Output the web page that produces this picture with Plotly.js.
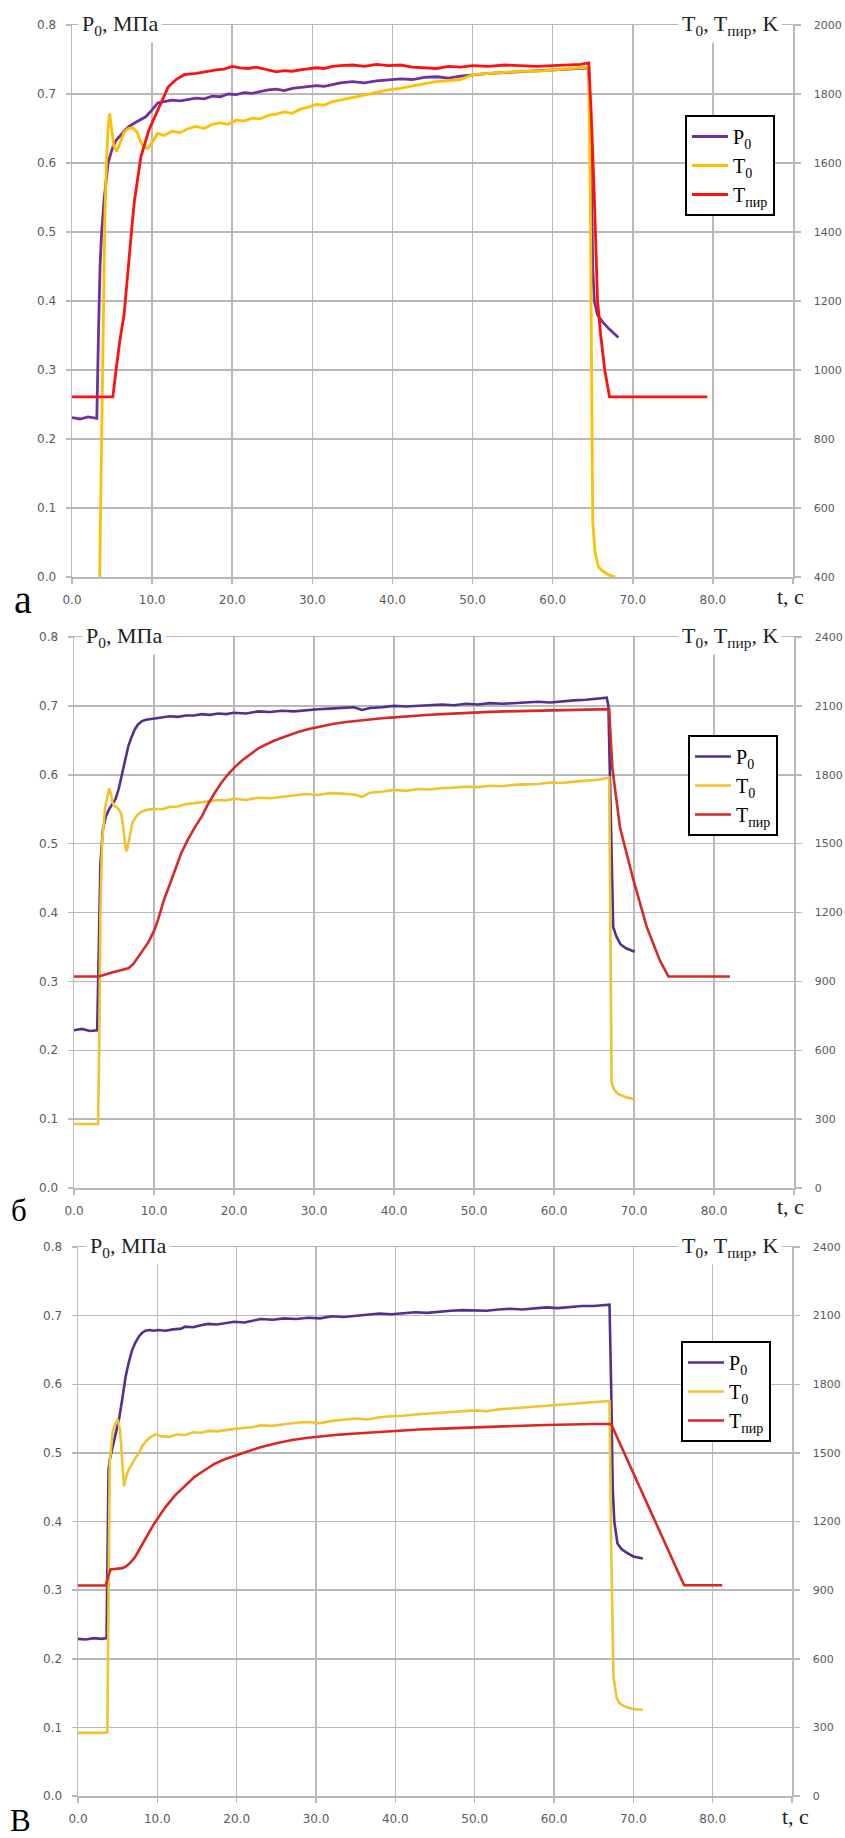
<!DOCTYPE html>
<html>
<head>
<meta charset="utf-8">
<script src="https://cdn.plot.ly/plotly-3.0.1.min.js"></script>
<style>html,body{margin:0;padding:0;background:#fff;}#chart{width:845px;height:1838px;}</style>
</head>
<body>
<div id="chart"></div>
<script>
// ---------- Panel а ----------
const tP_a = [0,1,2,3.1,3.3,3.5,3.7,4.0,4.5,5.0,5.5,6.2,7.0,7.8,8.5,9.2,10.0,10.7,11.5,12.5,13.5,14.5,15.5,16.5,17.5,18.5,19.5,20.5,21.5,22.5,23.5,24.5,25.5,26.5,27.5,28.5,29.5,30.5,31.5,32.5,33.5,35,36.5,38,39.5,41,42.5,44,45.5,47,48.5,50,52,54,56,58,60,62,64.5,64.8,65.0,65.2,65.6,66.2,67.0,67.6,68.2];
const P_a  = [0.231,0.229,0.232,0.230,0.35,0.45,0.50,0.546,0.600,0.620,0.633,0.642,0.652,0.658,0.662,0.667,0.677,0.687,0.689,0.691,0.690,0.692,0.694,0.693,0.697,0.696,0.700,0.699,0.702,0.701,0.704,0.706,0.707,0.705,0.708,0.709,0.710,0.712,0.711,0.714,0.716,0.718,0.716,0.719,0.721,0.722,0.721,0.724,0.725,0.723,0.726,0.728,0.730,0.731,0.732,0.733,0.735,0.736,0.738,0.60,0.45,0.40,0.38,0.37,0.36,0.353,0.347];

const tT0_a = [0,1,2,3.0,3.45,3.7,3.9,4.1,4.3,4.5,4.7,4.95,5.2,5.6,6.0,6.5,7.0,7.6,8.1,8.6,9.0,9.5,10.0,10.7,11.5,12.5,13.5,14.5,15.5,16.5,17.5,18.5,19.5,20.5,21.5,22.5,23.5,24.5,25.5,26.5,27.5,28.5,29.5,30.5,31.5,32.5,33.5,35,36.5,38,39.5,41,42.5,44,45.5,47,48.5,50,52,54,56,58,60,62,64.5,64.7,64.85,65.0,65.3,65.7,66.2,67.0,67.8];
const T0_a  = [290,290,290,290,400,800,1200,1440,1600,1700,1744,1700,1650,1634,1660,1688,1700,1702,1690,1660,1645,1642,1660,1686,1680,1692,1688,1700,1706,1700,1712,1716,1712,1724,1722,1730,1728,1738,1742,1748,1744,1756,1762,1770,1768,1778,1782,1790,1796,1804,1812,1816,1824,1830,1836,1840,1842,1856,1860,1862,1866,1866,1870,1872,1878,1500,900,560,470,430,418,406,400];

const tTp_a = [0,5.1,5.5,6.0,6.5,7.0,7.5,7.8,8.6,9.6,10.7,12.0,13.0,14.0,15.5,16.9,18.0,19.0,20.0,21.0,22.0,23.0,24.3,25.5,26.5,27.5,28.5,29.5,30.5,31.5,32.5,33.5,35,36.5,38,39.5,41,42.5,44,45.5,47,48.5,50,52,54,56,58,60,62,63.5,64.5,64.8,65.2,65.6,66.0,66.5,67.1,79.3];
const Tp_a  = [922,922,1000,1090,1160,1300,1420,1492,1618,1696,1754,1820,1842,1856,1860,1866,1870,1872,1880,1876,1874,1878,1870,1864,1868,1866,1870,1872,1876,1874,1880,1882,1884,1880,1886,1882,1884,1878,1876,1874,1880,1878,1882,1880,1884,1882,1880,1882,1884,1886,1890,1750,1500,1200,1100,1000,922,922];

// ---------- Panel б ----------
const tP_b = [0,1,2,2.9,3.1,3.3,3.6,4.0,4.4,4.8,5.2,5.6,6.0,6.4,6.8,7.2,7.6,8.0,8.5,9.0,9.5,10.0,11,12,13,14,15,16,17,18,19,20,21.5,23,24.5,26,27.5,29,30.5,32,33.5,35,36,37,38.5,40,41.5,43,44.5,46,47.5,49,50.5,52,53.5,55,56.5,58,59.5,61,62.5,64,65.5,66.6,66.8,67.0,67.2,67.4,67.8,68.3,69.0,70.1];
const P_b  = [0.229,0.231,0.228,0.229,0.35,0.47,0.52,0.54,0.55,0.557,0.565,0.58,0.60,0.62,0.642,0.655,0.666,0.673,0.678,0.680,0.681,0.682,0.683,0.685,0.684,0.686,0.686,0.688,0.687,0.689,0.688,0.690,0.689,0.692,0.691,0.693,0.692,0.694,0.695,0.696,0.697,0.698,0.694,0.697,0.698,0.700,0.699,0.700,0.701,0.702,0.701,0.703,0.702,0.704,0.703,0.704,0.705,0.706,0.705,0.707,0.708,0.709,0.711,0.712,0.70,0.593,0.45,0.379,0.365,0.354,0.348,0.343];

const tT0_b = [0,1,2,3.0,3.15,3.3,3.5,3.7,3.9,4.15,4.4,4.6,4.8,5.0,5.3,5.6,5.9,6.2,6.45,6.6,6.8,7.0,7.3,7.6,8.0,8.5,9.0,10,11,12,13,14,15,16,17,18,19,20,21.5,23,24.5,26,27.5,29,30.5,32,33.5,35,36,37,38.5,40,41.5,43,44.5,46,47.5,49,50.5,52,53.5,55,56.5,58,59.5,61,62.5,64,65.5,66.9,67.0,67.1,67.2,67.5,68.0,69.0,70.1];
const T0_b  = [279,278,280,279,600,1200,1500,1600,1660,1700,1740,1720,1680,1665,1660,1650,1630,1560,1480,1467,1500,1540,1590,1610,1628,1640,1646,1652,1650,1660,1662,1672,1675,1680,1686,1690,1688,1696,1690,1700,1698,1705,1710,1716,1712,1720,1718,1714,1704,1722,1726,1734,1730,1738,1736,1742,1744,1748,1746,1752,1750,1756,1758,1760,1766,1764,1770,1774,1778,1788,1400,700,459,430,410,395,386];

const tTp_b = [0,3.1,4.75,6.0,6.8,7.4,8.0,8.6,9.3,10.0,10.5,11.2,12.2,13.4,14.2,15.1,16.0,16.7,17.5,18.4,19.2,20,21,22,23,24,25,26.5,28,29.5,31,32.5,34,35.5,37,38.5,40,42,44,46,48,50,52,54,56,58,60,62,64,66,66.9,67.1,67.3,68.25,69.9,71.6,73.25,74.3,82.0];
const Tp_b  = [921,921,939,948,957,975,1008,1035,1071,1120,1168,1250,1344,1458,1515,1571,1620,1669,1716,1764,1800,1830,1862,1890,1914,1932,1948,1968,1986,2000,2012,2022,2030,2036,2042,2046,2050,2056,2060,2064,2068,2070,2074,2076,2078,2080,2082,2083,2084,2085,2086,1950,1828,1570,1345,1136,990,921,921];

// ---------- Panel в ----------
const tP_c = [0,1,2,3,3.6,3.75,3.85,4.0,4.35,4.8,5.2,5.6,6.0,6.4,6.8,7.2,7.7,8.1,8.5,9.0,9.5,10.1,11,12,13,13.5,14.5,15.5,16.4,17.5,18.5,19.7,21,22,23,24.5,26,27.5,29,30.5,32,33.5,35,36.5,38,39.5,41,42.5,44,45.5,47,48.5,50,51.5,53,54.5,56,57.5,59,60.5,62,63.5,65,66.5,67.0,67.2,67.4,67.6,68.0,68.5,69.1,70.0,71.2];
const P_c  = [0.229,0.228,0.230,0.229,0.230,0.40,0.476,0.49,0.508,0.53,0.551,0.58,0.611,0.632,0.649,0.660,0.670,0.675,0.678,0.679,0.678,0.679,0.678,0.680,0.681,0.684,0.683,0.686,0.688,0.687,0.689,0.691,0.690,0.693,0.695,0.694,0.696,0.695,0.697,0.696,0.699,0.698,0.700,0.701,0.703,0.702,0.704,0.705,0.704,0.706,0.707,0.708,0.708,0.707,0.709,0.710,0.709,0.711,0.712,0.711,0.713,0.714,0.714,0.716,0.716,0.60,0.45,0.40,0.368,0.36,0.355,0.349,0.346];

const tT0_c = [0,1,2,3,3.7,3.85,4.0,4.2,4.35,4.6,5.0,5.3,5.55,5.8,6.1,6.4,6.8,7.2,7.7,8.1,8.5,9.0,9.7,10.6,11.5,12.5,13.5,14.5,15.5,16.4,17.5,18.5,19.7,21,22,23,24.5,26,27.5,29,30.5,32,33.5,35,36.5,38,39.5,41,42.5,44,45.5,47,48.5,50,51.5,53,54.5,56,57.5,59,60.5,62,63.5,65,66.5,67.0,67.2,67.5,67.9,68.25,69.0,70.0,71.2];
const T0_c  = [276,275,277,276,278,900,1458,1530,1590,1620,1647,1600,1480,1353,1400,1428,1450,1476,1500,1530,1548,1566,1581,1572,1570,1581,1578,1590,1588,1596,1594,1600,1605,1610,1612,1620,1618,1625,1632,1635,1630,1640,1644,1650,1646,1656,1660,1662,1668,1672,1676,1680,1684,1686,1682,1690,1694,1698,1702,1706,1708,1712,1716,1722,1726,1727,1100,519,430,405,390,380,376];

const tTp_c = [0,3.5,3.8,4.1,4.6,5.0,5.6,6.1,6.6,7.2,7.7,8.3,8.9,9.5,10.1,11.0,12.2,13.5,14.7,16.0,17.2,18.5,19.7,21,23,25,27,29,31,33,35,37,39,41,43,45,47,49,51,53,55,57,59,61,63,65,67.2,76.4,81.2];
const Tp_c  = [920,920,960,990,992,994,996,1005,1020,1045,1076,1112,1151,1185,1216,1262,1313,1358,1395,1425,1452,1472,1487,1500,1525,1542,1556,1566,1574,1580,1585,1590,1594,1598,1602,1605,1608,1611,1613,1616,1618,1620,1622,1624,1625,1626,1626,921,921];

// tick labels
const xTickVals = [0,10,20,30,40,50,60,70,80,90];
const xTickText = ["0.0","10.0","20.0","30.0","40.0","50.0","60.0","70.0","80.0",""];
const pTickVals = [0,0.1,0.2,0.3,0.4,0.5,0.6,0.7,0.8];
const pTickText = ["0.0","0.1","0.2","0.3","0.4","0.5","0.6","0.7","0.8"];
const seriesNames = ["P<sub>0</sub>","T<sub>0</sub>","T<sub>пир</sub>"];
const panelLetters = ["а","б","В"];

// ---------- geometry / style ----------
const W = 845, H = 1838;
const SERIF = "Liberation Serif, Times New Roman, serif";
const SANS = "DejaVu Sans, Verdana, sans-serif";
const GRID = "#b9b9b9";
const TICKC = "#5a5a5a";
const px = v => v / W;
const py = v => 1 - v / H;

const panels = [
  {x0:72, x1:793, y0:25,   y1:577,  rr:[400,2000], rd:200, cols:["#7030A0","#FFC000","#FF1010"], lw:2.8,
   leg:[685,115], letter:[23,599,40], tc:[790,596], pl:78},
  {x0:74, x1:794, y0:637,  y1:1188, rr:[0,2400], rd:300, cols:["#52308C","#F0C22C","#D42A2A"], lw:2.6,
   leg:[688,735], letter:[19,1210,31], tc:[790,1206], pl:82},
  {x0:78, x1:792, y0:1247, y1:1796, rr:[0,2400], rd:300, cols:["#52308C","#EFC430","#DC2622"], lw:2.6,
   leg:[681,1341], letter:[20,1820,31], tc:[795,1816], pl:86}
];
const data = [
  [tP_a,P_a,tT0_a,T0_a,tTp_a,Tp_a],
  [tP_b,P_b,tT0_b,T0_b,tTp_b,Tp_b],
  [tP_c,P_c,tT0_c,T0_c,tTp_c,Tp_c]
];

const traces = [];
const layout = {
  width: W, height: H, margin:{l:0,r:0,t:0,b:0},
  paper_bgcolor:"#fff", plot_bgcolor:"#fff", showlegend:true,
  annotations: []
};

panels.forEach((p, i) => {
  const xa = i === 0 ? "x" : "x" + (i+1);
  const yl = "y" + (i===0 ? "" : (2*i+1));
  const yr = "y" + (2*i+2);
  const xKey = i === 0 ? "xaxis" : "xaxis" + (i+1);
  const ylKey = "yaxis" + (i===0 ? "" : (2*i+1));
  const yrKey = "yaxis" + (2*i+2);
  const legKey = i === 0 ? "legend" : "legend" + (i+1);
  const d = data[i];

  traces.push({x:d[0], y:d[1], xaxis:xa, yaxis:yl, type:"scatter", mode:"lines", name:seriesNames[0],
    line:{color:p.cols[0], width:p.lw}, legend:legKey, hoverinfo:"skip"});
  traces.push({x:d[2], y:d[3], xaxis:xa, yaxis:yr, type:"scatter", mode:"lines", name:seriesNames[1],
    line:{color:p.cols[1], width:p.lw}, legend:legKey, hoverinfo:"skip"});
  traces.push({x:d[4], y:d[5], xaxis:xa, yaxis:yr, type:"scatter", mode:"lines", name:seriesNames[2],
    line:{color:p.cols[2], width:p.lw}, legend:legKey, hoverinfo:"skip"});

  layout[xKey] = {
    domain:[px(p.x0), px(p.x1)], anchor:yl, range:[0,90],
    tickmode:"array", tickvals:xTickVals, ticktext:xTickText,
    showgrid:true, gridcolor:GRID, gridwidth:1.5,
    showline:true, linecolor:GRID, linewidth:1.5, mirror:true,
    ticks:"outside", ticklen:5, tickcolor:GRID, tickwidth:1.5,
    tickfont:{family:SANS, size:12, color:TICKC}, ticklabelstandoff:6,
    zeroline:false, fixedrange:true
  };
  layout[ylKey] = {
    domain:[py(p.y1), py(p.y0)], anchor:xa, range:[0,0.8],
    tickmode:"array", tickvals:pTickVals, ticktext:pTickText,
    showgrid:true, gridcolor:GRID, gridwidth:1.5,
    showline:true, linecolor:GRID, linewidth:1.5,
    ticks:"outside", ticklen:5, tickcolor:GRID, tickwidth:1.5,
    tickfont:{family:SANS, size:12, color:TICKC}, ticklabelstandoff:7,
    zeroline:false, fixedrange:true
  };
  layout[yrKey] = {
    overlaying:yl, side:"right", anchor:xa, range:p.rr, dtick:p.rd, tick0:0,
    showgrid:false, showline:true, linecolor:GRID, linewidth:1.5,
    ticks:"outside", ticklen:6, tickcolor:GRID, tickwidth:1.5,
    tickfont:{family:SANS, size:11, color:TICKC}, ticklabelstandoff:11,
    zeroline:false, fixedrange:true
  };
  layout[legKey] = {
    x:px(p.leg[0]), y:py(p.leg[1]), xanchor:"left", yanchor:"top",
    bgcolor:"#fff", bordercolor:"#000", borderwidth:2,
    font:{family:SERIF, size:20, color:"#000"}, itemwidth:36, tracegroupgap:0
  };

  layout.annotations.push({
    xref:"paper", yref:"paper", x:px(p.pl), y:py(p.y0), xanchor:"left", yanchor:"middle",
    text:"P<sub>0</sub>, МПа", showarrow:false, bgcolor:"#fff", borderpad:3,
    font:{family:SERIF, size:22, color:"#222"}
  });
  layout.annotations.push({
    xref:"paper", yref:"paper", x:px(782), y:py(p.y0), xanchor:"right", yanchor:"middle",
    text:"T<sub>0</sub>, T<sub>пир</sub>, K", showarrow:false, bgcolor:"#fff", borderpad:3,
    font:{family:SERIF, size:22, color:"#222"}
  });
  layout.annotations.push({
    xref:"paper", yref:"paper", x:px(p.tc[0]), y:py(p.tc[1]), xanchor:"center", yanchor:"middle",
    text:"t, c", showarrow:false, font:{family:SERIF, size:22, color:"#222"}
  });
  layout.annotations.push({
    xref:"paper", yref:"paper", x:px(p.letter[0]), y:py(p.letter[1]), xanchor:"center", yanchor:"middle",
    text:panelLetters[i], showarrow:false, font:{family:SERIF, size:p.letter[2], color:"#000"}
  });
});

Plotly.newPlot("chart", traces, layout, {staticPlot:true, displayModeBar:false});
</script>
</body>
</html>
